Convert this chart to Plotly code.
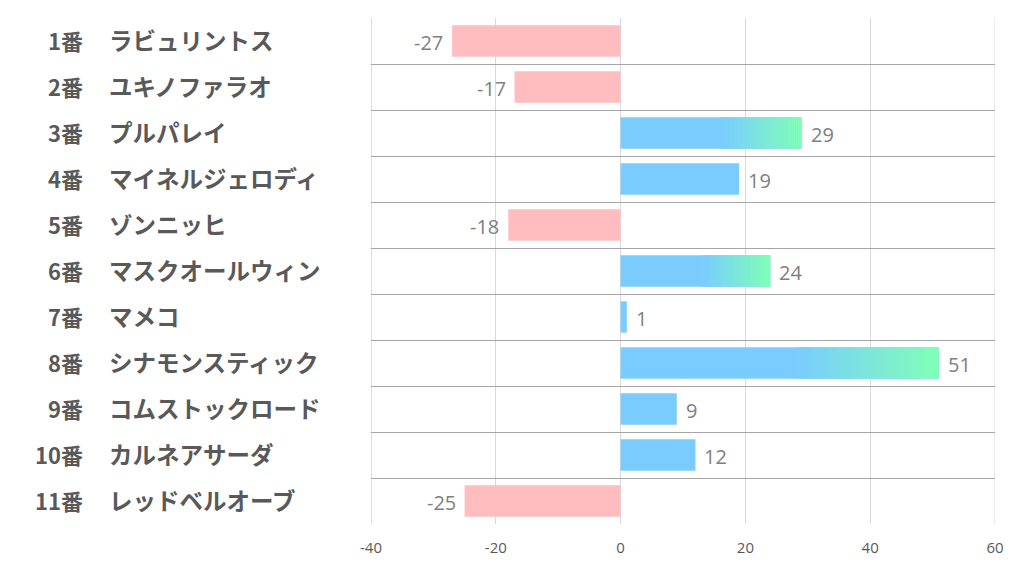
import plotly.graph_objects as go

numbers = ["1番", "2番", "3番", "4番", "5番", "6番", "7番", "8番", "9番", "10番", "11番"]
names = ["ラビュリントス", "ユキノファラオ", "プルパレイ", "マイネルジェロディ", "ゾンニッヒ",
         "マスクオールウィン", "マメコ", "シナモンスティック", "コムストックロード", "カルネアサーダ", "レッドベルオーブ"]
values = [-27, -17, 29, 19, -18, 24, 1, 51, 9, 12, -25]
x_ticks = [-40, -20, 0, 20, 40, 60]

BLUE = (122, 204, 255)
GREEN = (128, 255, 182)
PINK = "#FFBDBF"
GRAD_START = 0.55
NSEG = 40
BAR_W = 0.68

ypos = list(range(len(values)))
colors = ["rgb(%d,%d,%d)" % BLUE if v >= 0 else PINK for v in values]

fig = go.Figure()
fig.add_trace(go.Bar(
    y=ypos, x=values, orientation="h", width=BAR_W,
    marker=dict(color=colors, line=dict(width=0)),
    hoverinfo="skip",
))

# gradient overlay for bars above 20
gy, gbase, gx, gcol = [], [], [], []
for i, v in enumerate(values):
    if v > 20:
        x0 = v * GRAD_START
        w = (v - x0) / NSEG
        for k in range(NSEG):
            t = (k + 0.5) / NSEG
            c = tuple(int(round(BLUE[j] + (GREEN[j] - BLUE[j]) * t)) for j in range(3))
            gy.append(i)
            gbase.append(x0 + k * w)
            gx.append(w * 1.15 if k < NSEG - 1 else w)
            gcol.append("rgb(%d,%d,%d)" % c)
fig.add_trace(go.Bar(
    y=gy, x=gx, base=gbase, orientation="h", width=BAR_W,
    marker=dict(color=gcol, line=dict(width=0)), hoverinfo="skip",
))

# value labels
val_font = dict(family="Open Sans, Noto Sans CJK JP", size=20, color="#7f7f7f")
for i, v in enumerate(values):
    fig.add_annotation(x=v, y=i, xref="x", yref="y", text=str(v), showarrow=False,
                       xanchor="left" if v >= 0 else "right", xshift=7 if v >= 0 else -7,
                       yshift=-1, font=val_font)

num_font = dict(family="Noto Sans CJK JP", size=22, color="#595959")
name_font = dict(family="Noto Sans CJK JP", size=23.5, color="#595959")
for i in range(len(values)):
    fig.add_annotation(x=-0.459, y=i, xref="paper", yref="y", text="<b>%s</b>" % numbers[i],
                       showarrow=False, xanchor="right", yshift=1.5, font=num_font)
    fig.add_annotation(x=-0.4225, y=i, xref="paper", yref="y", text="<b>%s</b>" % names[i],
                       showarrow=False, xanchor="left", yshift=1.5, font=name_font)

fig.update_layout(
    width=1022, height=574, barmode="overlay", showlegend=False,
    margin=dict(l=363, r=35, t=10, b=58),
    plot_bgcolor="white", paper_bgcolor="white",
    xaxis=dict(range=[-40, 60], tickvals=x_ticks, ticktext=[str(t) for t in x_ticks],
               showgrid=True, gridcolor="#d9d9d9", gridwidth=1, zeroline=False,
               showline=False, ticks="", ticklabelstandoff=13,
               tickfont=dict(family="Open Sans, Noto Sans CJK JP", size=15, color="#595959")),
    yaxis=dict(range=[len(values) - 0.5, -0.5], tickvals=[i - 0.5 for i in range(len(values) + 1)],
               showticklabels=False, showgrid=True, gridcolor="#a6a6a6", gridwidth=1,
               zeroline=False, showline=False, ticks=""),
    shapes=[dict(type="line", xref="x", yref="paper", x0=-40, x1=-40, y0=0, y1=1,
                 line=dict(color="#bfbfbf", width=1), layer="below"),
            dict(type="line", xref="x", yref="paper", x0=60, x1=60, y0=0, y1=1,
                 line=dict(color="#d9d9d9", width=1), layer="below")],
)

fig.write_html("out.html")
